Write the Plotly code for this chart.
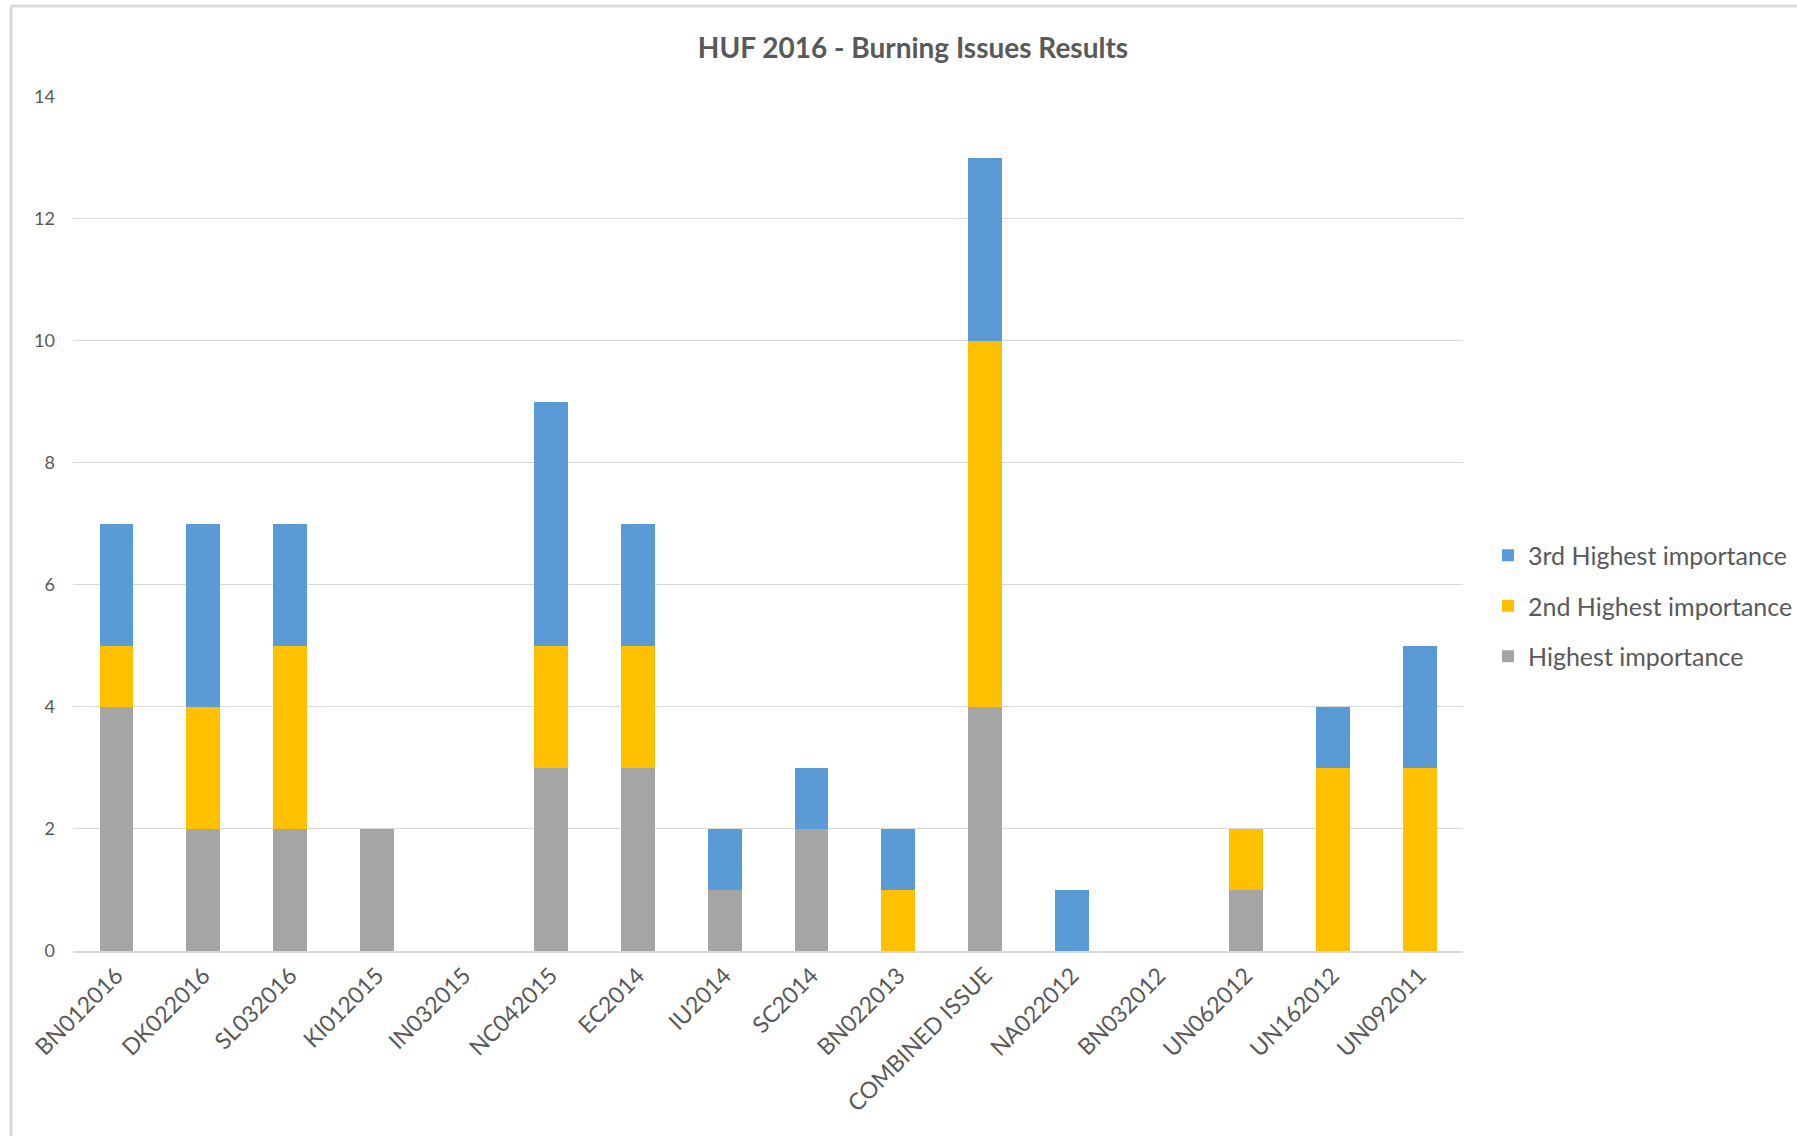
import plotly.graph_objects as go

categories = ["BN012016", "DK022016", "SL032016", "KI012015", "IN032015", "NC042015",
              "EC2014", "IU2014", "SC2014", "BN022013", "COMBINED ISSUE", "NA022012",
              "BN032012", "UN062012", "UN162012", "UN092011"]
highest = [4, 2, 2, 2, 0, 3, 3, 1, 2, 0, 4, 0, 0, 1, 0, 0]
second = [1, 2, 3, 0, 0, 2, 2, 0, 0, 1, 6, 0, 0, 1, 3, 3]
third = [2, 3, 2, 0, 0, 4, 2, 1, 1, 1, 3, 1, 0, 0, 1, 2]
y_ticks = [0, 2, 4, 6, 8, 10, 12, 14]

W, H = 1797, 1136
FONT = "Lato"
TXT = "#595959"

fig = go.Figure()
series = [("Highest importance", highest, "#A5A5A5", 3),
          ("2nd Highest importance", second, "#FFC000", 2),
          ("3rd Highest importance", third, "#5B9BD5", 1)]
for name, vals, col, rank in series:
    fig.add_trace(go.Bar(x=categories, y=vals, name=name, legendgroup=name, legendrank=rank,
                         marker=dict(color=col, line=dict(width=0))))

x0, x1 = 73 / W, 1463 / W
y0, y1 = 1 - 951 / H, 1 - 96.7 / H

fig.update_layout(
    width=W, height=H,
    barmode="stack", bargap=0.61,
    paper_bgcolor="white", plot_bgcolor="white",
    margin=dict(l=0, r=0, t=0, b=0, autoexpand=False),
    font=dict(family=FONT, color=TXT),
    title=dict(text="<b>HUF 2016 - Burning Issues Results</b>", x=913 / W, xanchor="center",
               y=1 - 48 / H, yanchor="middle", font=dict(size=28, color=TXT, family=FONT)),
    xaxis=dict(domain=[x0, x1], tickangle=-45, tickfont=dict(size=23, color=TXT),
               showgrid=False, showline=True, linecolor="#D9D9D9", linewidth=2,
               ticks="", automargin=False),
    yaxis=dict(domain=[y0, y1], range=[0, 14], tickvals=y_ticks, tickfont=dict(size=18, color=TXT),
               showgrid=True, gridcolor="#D9D9D9", gridwidth=1.3, zeroline=False,
               showline=False, ticks="", ticklabelstandoff=17, automargin=False),
    legend=dict(x=1488 / W, xanchor="left", y=1 - 606 / H, yanchor="middle",
                traceorder="grouped", tracegroupgap=15,
                font=dict(size=25, color=TXT, family=FONT), itemwidth=30),
    shapes=[
        dict(type="line", xref="paper", yref="paper", x0=11 / W, x1=1, y0=1 - 6 / H, y1=1 - 6 / H,
             line=dict(color="#D9D9D9", width=3)),
        dict(type="line", xref="paper", yref="paper", x0=11 / W, x1=11 / W, y0=0, y1=1 - 6 / H,
             line=dict(color="#D9D9D9", width=3)),
    ],
)

fig.write_html("out.html", config={"displayModeBar": False},
               post_script="document.body.style.margin='0';")
